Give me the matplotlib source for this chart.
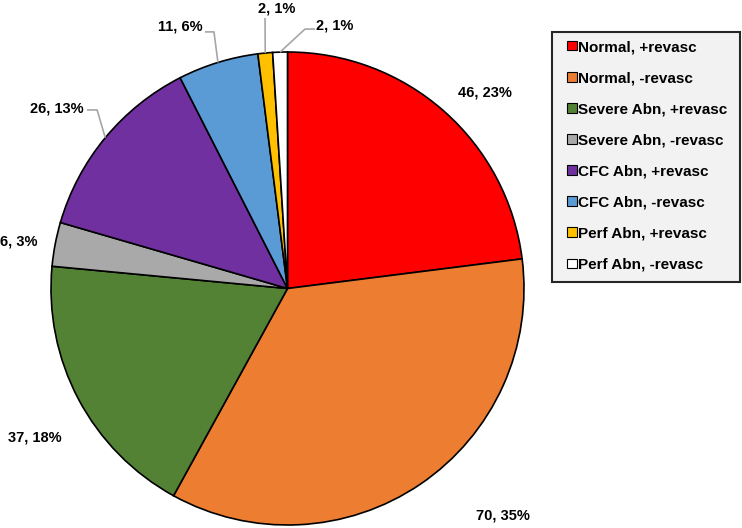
import matplotlib
matplotlib.use('Agg')
import matplotlib.pyplot as plt
from matplotlib.patches import Patch, Rectangle
import numpy as np

plt.rcParams['font.family'] = ['Liberation Sans', 'DejaVu Sans']

# Data
categories = ['Normal, +revasc', 'Normal, -revasc', 'Severe Abn, +revasc', 'Severe Abn, -revasc',
              'CFC Abn, +revasc', 'CFC Abn, -revasc', 'Perf Abn, +revasc', 'Perf Abn, -revasc']
counts = [46, 70, 37, 6, 26, 11, 2, 2]
percents = [23, 35, 18, 3, 13, 6, 1, 1]
colors = ['#ff0000', '#ed7d31', '#548235', '#a9a9a9', '#7030a0', '#5b9bd5', '#ffc000', '#ffffff']

# label placement (pie units) and which labels get a leader line
label_pos = [(0.835, 0.827), (0.911, -0.958), (-1.068, -0.628), (-1.135, 0.197),
             (-0.977, 0.759), (-0.455, 1.106), (-0.044, 1.186), (0.201, 1.114)]
# leader: (start x, start y, elbow x) in pie units, None = no leader
leaders = [None, None, None, None,
           (-0.848, 0.755, -0.805), (-0.349, 1.085, -0.311),
           (-0.095, 1.144, -0.095), (0.116, 1.097, 0.074)]

fig = plt.figure(figsize=(7.42, 5.28), dpi=100)
W, H = 742, 528
cx, cy, R = 287.5, 288.5, 236.5
ax = fig.add_axes([(cx - R) / W, (H - cy - R) / H, 2 * R / W, 2 * R / H])

wedges, _ = ax.pie(counts, colors=colors, startangle=90, counterclock=False,
                   wedgeprops=dict(edgecolor='black', linewidth=1.2))
ax.set_xlim(-1, 1)
ax.set_ylim(-1, 1)
ax.set_aspect('equal')
ax.axis('off')

for i, (c, p) in enumerate(zip(counts, percents)):
    x, y = label_pos[i]
    ax.text(x, y, f'{c}, {p}%', ha='center', va='center', fontsize=10.5,
            fontweight='bold', color='black')
    if leaders[i] is not None:
        w = wedges[i]
        mid = np.deg2rad((w.theta1 + w.theta2) / 2)
        ex, ey = np.cos(mid), np.sin(mid)
        sx, sy, bx = leaders[i]
        ax.plot([sx, bx, ex], [sy, sy, ey], color='#a6a6a6', lw=1.2,
                clip_on=False, solid_capstyle='butt')

# Legend box
fig.patches.append(Rectangle((552 / W, (H - 282) / H), 188 / W, 250 / H,
                             transform=fig.transFigure, facecolor='#f2f2f2',
                             edgecolor='#262626', linewidth=1.5, zorder=0))
handles = [Patch(facecolor=col, edgecolor='black', linewidth=0.8) for col in colors]
fig.legend(handles, categories, loc='upper left',
           bbox_to_anchor=(567 / W, (H - 40) / H), frameon=False,
           prop=dict(size=11, weight='bold'), handlelength=0.65, handleheight=0.6,
           handletextpad=0.1, labelspacing=1.12, borderpad=0, borderaxespad=0)

fig.savefig('out.png', dpi=100)
